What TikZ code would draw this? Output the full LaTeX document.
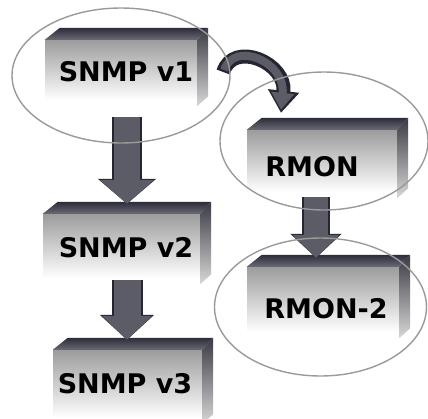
\documentclass[tikz,border=0pt]{standalone}
\usepackage{fontspec}
\setmainfont{DejaVu Sans}
\usetikzlibrary{arrows.meta,shapes.geometric,calc}
\definecolor{bevtop}{HTML}{2C2C3A}
\definecolor{bevbot}{HTML}{6A6A74}
\definecolor{sidetop}{HTML}{3A3A44}
\definecolor{sidebot}{HTML}{D8D8D8}
\definecolor{facetop}{HTML}{9C9C9C}
\definecolor{facemid}{HTML}{D0D0D0}
\definecolor{arrbody}{HTML}{5C5C66}
\definecolor{arrside}{HTML}{262632}
\definecolor{ringcol}{HTML}{9A9A9A}
\newcommand\tdbox[1]{%
  \shade[top color=bevtop,bottom color=bevbot] (#1.north west) -- ++(15,-12) -- ($(#1.north east)+(11,-12)$) -- (#1.north east) -- cycle;
  \shade[top color=sidetop,bottom color=sidebot] (#1.north east) -- ++(11,-12) -- ($(#1.south east)+(11,-4)$) -- ($(#1.south east)+(0,6)$) -- cycle;
}
\begin{document}
\begin{tikzpicture}[x=1pt,y=-1pt,
  face/.style={rectangle,inner sep=0pt,top color=facetop,middle color=facemid,bottom color=white},
  lbl/.style={inner sep=0pt,font=\bfseries\fontsize{27}{27}\selectfont,text=black},
  ring/.style={ellipse,draw=ringcol,line width=1.4pt,inner sep=0pt},
  blockside/.style={draw=arrside,line width=#1},
  blockbody/.style={draw=arrbody,line width=#1}]
\useasboundingbox[fill=white] (0,0) rectangle (428,418);
% faces
\node[face,minimum width=152pt,minimum height=60pt] (v1) at (121,70) {};
\node[face,minimum width=157pt,minimum height=64pt] (v2) at (121.5,246) {};
\node[face,minimum width=149pt,minimum height=68pt] (v3) at (127.5,384) {};
\node[face,minimum width=150pt,minimum height=62pt] (rm) at (322,161) {};
\node[face,minimum width=152pt,minimum height=65pt] (rm2) at (323,299.5) {};
\tdbox{v1}\tdbox{v2}\tdbox{v3}\tdbox{rm}\tdbox{rm2}
% labels
\node[lbl] (t1) at (126,72) {SNMP v1};
\node[lbl] (t2) at (126,248) {SNMP v2};
\node[lbl] (t3) at (125,384) {SNMP v3};
\node[lbl] (t4) at (312,167) {RMON};
\node[lbl] (t5) at (326,309) {RMON-2};
% block arrows
\begin{scope}[xshift=5pt,yshift=4pt]
\draw[arrside,line width=30pt,-{Triangle[width=57pt,length=25pt]}] ($(v1.south)+(6,17)$) -- ($(v2.north)+(5.5,-10)$);
\draw[arrside,line width=31pt,-{Triangle[width=53pt,length=25pt]}] ($(v2.south)+(5.5,2)$) -- ($(v3.north)+(-0.5,-10)$);
\draw[arrside,line width=28pt,-{Triangle[width=50pt,length=24pt]}] ($(rm.south)+(-6,5)$) -- ($(rm2.north)+(-7,-9)$);
\end{scope}
\draw[arrbody,line width=26pt,-{Triangle[width=53pt,length=24pt]}] ($(v1.south)+(6,17)$) -- ($(v2.north)+(5.5,-10)$);
\draw[arrbody,line width=27pt,-{Triangle[width=49pt,length=24pt]}] ($(v2.south)+(5.5,2)$) -- ($(v3.north)+(-0.5,-10)$);
\draw[arrbody,line width=24pt,-{Triangle[width=46pt,length=23pt]}] ($(rm.south)+(-6,5)$) -- ($(rm2.north)+(-7,-9)$);
% curved arrow
\draw[arrside,line width=14pt,-{Triangle[width=30pt,length=22pt]}] ($(v1.east)+(26,2)$) .. controls +(10,-32) and +(6,-50) .. ($(rm.north)+(-41,-17)$);
\draw[arrbody,line width=8pt,-{Triangle[width=22pt,length=17pt]}] ($(v1.east)+(27,0)$) .. controls +(10,-30) and +(5,-48) .. ($(rm.north)+(-41,-20)$);
% rings
\node[ring,minimum width=218pt,minimum height=135pt] (e1) at (121,75.5) {};
\node[ring,minimum width=208pt,minimum height=138pt] (e2) at (324,141) {};
\node[ring,minimum width=212pt,minimum height=138pt] (e3) at (320.5,307) {};
\end{tikzpicture}
\end{document}
